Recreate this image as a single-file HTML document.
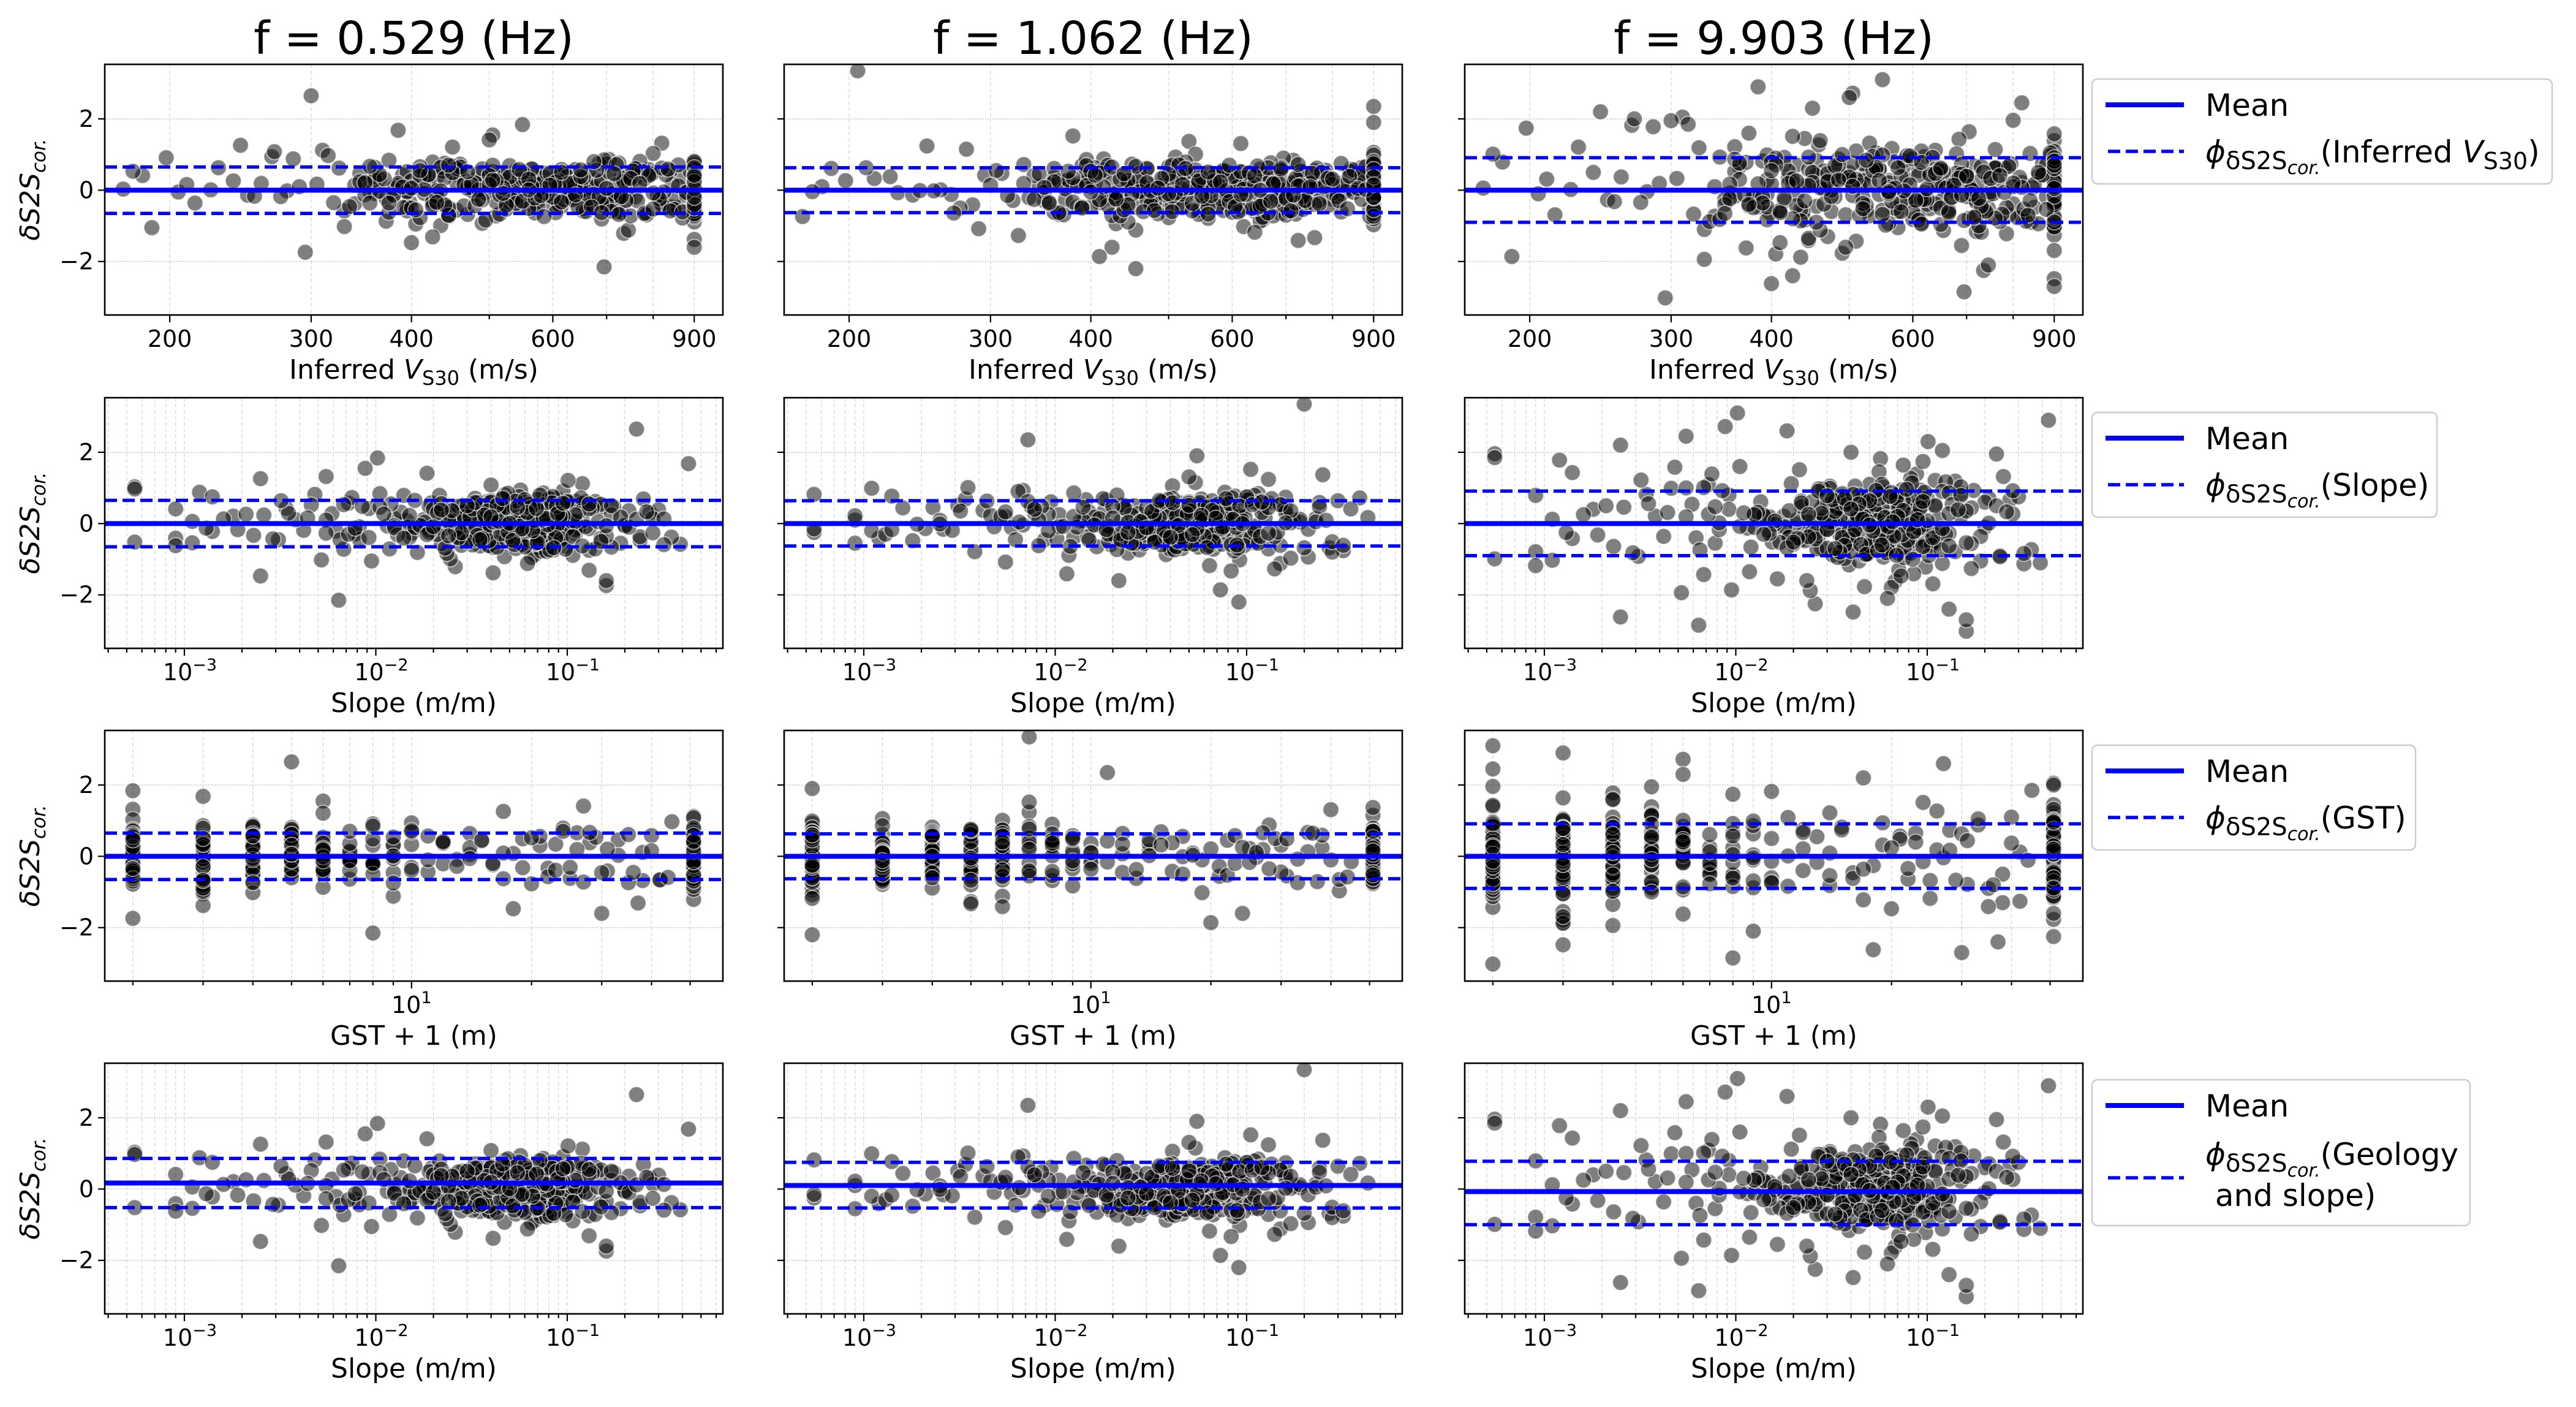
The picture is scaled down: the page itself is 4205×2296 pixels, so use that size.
<!DOCTYPE html>
<html><head><meta charset="utf-8">
<style>
html,body{margin:0;padding:0;background:#fff;}
svg{display:block;font-family:"DejaVu Sans","Liberation Sans",sans-serif;}
</style></head>
<body>
<svg id="fig" width="4205" height="2296" viewBox="0 0 4205 2296" xmlns="http://www.w3.org/2000/svg"></svg>
<script>
// ---- data ----
const VS30=[420,615,230,880,365,510,900,285,745,455,190,560,398,900,655,330,480,820,250,705,
540,372,900,430,610,268,785,500,900,345,175,665,458,900,590,310,725,405,870,525,
215,640,380,900,470,560,295,760,440,900,620,355,505,842,260,690,415,900,575,325,
735,465,198,650,390,900,520,280,800,445,585,340,900,675,490,240,715,425,860,550,
305,630,395,900,470,185,745,530,360,900,600,450,275,780,410,900,565,320,695,485,
225,655,375,900,540,435,840,290,610,500,350,900,720,460,205,580,400,890,525,315,
670,445,900,255,760,495,385,625,900,335,570,425,210,705,480,900,545,300,820,415,
640,360,900,505,270,730,455,590,180,900,520,395,685,440,900,330,615,475,850,245];
const VS30_B=[480,530,610,700,405,455,560,650,760,820,900,372,438,515,590,680,735,860,395,470,
545,625,710,790,900,350,425,500,575,655,745,880,410,465,535,605,690,770,900,385,
445,520,585,665,725,845,900,360,430,490,560,640,715,800,395,475,550,620,700,900,
340,415,505,570,645,760,830,900,380,450,525,600,675,740,870,400,460,540,615,690,
900,365,435,510,580,660,730,810,900,390,470,555,630,705,785,900,355,420,495,565,
635,720,850,410,485,545,610,695,765,900,375,440,515,590,670,745,825,900,400,465,
530,600,680,750,890,345,425,505,575,650,710,795,900,385,455,535,620,700,775,900,
360,430,500,560,640,725,815,415,480,550,625,690,760,900,370,445,520,595,665,735,
840,900,395,460,540,610,685,755,870,350,420,490,565,645,720,800,900,405,475,545,
615,700,780,900,380,450,525,605,675,740,860,900,365,435,510,585,655,730,820,900,
390,470,550,630,710,790,880,355,425,500,570,650,725,900,410,485,560,640,715,800,
900,375,445,520,595,670,750,835,900,400,440,505,580,615,690,770,900,430,560,650];
const SLOPE=[0.052,0.0031,0.11,0.018,0.27,0.0068,0.074,0.0012,0.036,0.15,
0.0095,0.061,0.0023,0.088,0.024,0.39,0.045,0.0055,0.13,0.0009,
0.031,0.068,0.0145,0.21,0.0042,0.057,0.098,0.0018,0.041,0.175,
0.0275,0.0078,0.082,0.00055,0.033,0.12,0.0115,0.065,0.3,0.0026,
0.049,0.0195,0.105,0.0048,0.071,0.0038,0.16,0.022,0.056,0.0014,
0.092,0.0345,0.0088,0.24,0.043,0.0165,0.077,0.0011,0.063,0.14,
0.026,0.0059,0.095,0.038,0.0034,0.19,0.0125,0.054,0.00055,0.085,
0.029,0.35,0.0072,0.067,0.047,0.0021,0.115,0.0215,0.059,0.0102,
0.079,0.0155,0.0046,0.17,0.037,0.0009,0.062,0.25,0.0082,0.044,
0.0029,0.101,0.019,0.0135,0.073,0.0016,0.125,0.028,0.0064,0.058,
0.042,0.32,0.0105,0.086,0.0035,0.0245,0.15,0.0055,0.066,0.0185,
0.0013,0.094,0.039,0.0075,0.2,0.051,0.0025,0.0285,0.11,0.00055,
0.069,0.0118,0.045,0.0019,0.083,0.0235,0.43,0.0062,0.055,0.032,
0.0092,0.13,0.0044,0.075,0.0148,0.0011,0.048,0.23,0.0265,0.0085,
0.064,0.0032,0.107,0.0178,0.04,0.0009,0.091,0.0225,0.0068,0.16,
0.035,0.0125,0.0014,0.071,0.28,0.0052,0.05,0.0205,0.097,0.0025];
const SLOPE_B=[0.045,0.062,0.031,0.088,0.12,0.022,0.054,0.076,0.038,0.15,
0.027,0.068,0.095,0.041,0.018,0.059,0.11,0.033,0.082,0.049,
0.2,0.025,0.071,0.037,0.13,0.057,0.015,0.086,0.044,0.065,
0.029,0.1,0.052,0.0082,0.074,0.035,0.17,0.047,0.021,0.061,
0.092,0.039,0.056,0.012,0.079,0.028,0.14,0.05,0.067,0.034,
0.24,0.043,0.085,0.019,0.058,0.105,0.031,0.072,0.046,0.0065,
0.053,0.125,0.036,0.081,0.024,0.063,0.048,0.16,0.03,0.07,
0.042,0.097,0.016,0.055,0.078,0.035,0.12,0.051,0.026,0.066,
0.0105,0.089,0.04,0.058,0.19,0.032,0.075,0.047,0.014,0.064,
0.11,0.037,0.053,0.083,0.023,0.069,0.044,0.135,0.03,0.06,
0.28,0.041,0.077,0.02,0.056,0.093,0.034,0.049,0.0072,0.07,
0.039,0.115,0.062,0.027,0.087,0.045,0.017,0.054,0.15,0.036,
0.073,0.05,0.022,0.098,0.042,0.061,0.013,0.08,0.033,0.057,
0.21,0.046,0.068,0.029,0.102,0.038,0.055,0.0092,0.076,0.043,
0.065,0.026,0.13,0.052,0.035,0.084,0.019,0.059,0.048,0.17,
0.031,0.071,0.04,0.0125,0.09,0.054,0.024,0.066,0.037,0.11,
0.058,0.044,0.079,0.016,0.05,0.32,0.033,0.063,0.028,0.095,
0.047,0.0055,0.074,0.039,0.118,0.056,0.021,0.069,0.042,0.083,
0.034,0.145,0.06,0.025,0.051,0.088,0.036,0.015,0.072,0.045,
0.23,0.03,0.064,0.048,0.011,0.081,0.038,0.057,0.1,0.027,
0.067,0.043,0.0185,0.092,0.053,0.032,0.16,0.06,0.035,0.075,
0.049,0.022,0.085,0.041,0.13,0.028,0.062,0.0078,0.055,0.07,
0.037,0.107,0.046,0.02,0.078,0.052,0.26,0.033,0.066,0.044,
0.014,0.089,0.058,0.03,0.12,0.04,0.069,0.024,0.05,0.095];
const GST=[2,5,51,3,8,2,14,4,51,6,3,2,22,5,9,51,4,2,7,31,
3,6,51,2,4,10,17,5,3,51,2,8,26,4,2,51,6,3,12,5,
2,51,7,4,38,3,2,9,51,5,19,2,6,4,51,3,28,2,10,5,
51,4,8,2,15,3,6,51,2,35,5,4,11,3,51,2,7,24,6,2,
51,4,3,42,5,2,9,51,13,3,2,6,4,51,20,2,5,3,8,33,
51,2,4,16,6,3,51,2,10,27,5,4,51,2,7,3,18,2,51,45,
6,4,23,2,5,51,3,12,2,9,4,37,51,3,6,2,21,5,51,8,
2,14,3,4,51,25,2,7,6,30,51,3,2,11,5,4,40,51,2,17];
const GST_B=[2,3,51,4,5,2,6,3,51,2,7,4,2,51,5,3,8,2,51,6,
2,4,3,51,9,2,5,51,3,2,10,4,51,6,2,3,51,5,2,7,
4,51,2,3,8,51,2,5,4,51,2,6,3,51,2,4,9,2,51,5,
3,2,51,7,4,2,51,6,3,10,2,51,5,4,2,3,51,8,2,6,
51,3,2,4,51,5,2,7,3,51,2,4,6,51,2,3,5,51,9,2,
4,51,3,2,6,51,2,8,4,3,51,2,5,51,7,2,3,4,51,2,
12,16,21,27,33,14,19,24,30,38,11,15,22,26,35,13,18,23,29,42,
2,3,51,4,2,5,51,3,6,2,51,4,2,7,3,51,2,5,8,51,
2,3,4,51,6,2,51,9,3,2,5,51,4,2,10,3,51,2,6,4,
51,2,3,7,51,5,2,4,51,3,2,8,51,6,2,4,3,51,5,2,
17,20,25,31,44,12,14,28,36,40,2,51,3,4,2,51,5,6,2,51,
3,2,7,4,51,2,3,51,8,5,2,4,51,3,2,6,51,2,9,4];
const Y_F1=[0.12,-0.45,0.63,-0.08,0.31,-0.72,0.05,0.88,-0.26,0.44,-1.05,0.18,-0.33,0.71,0.02,-0.58,0.27,1.32,-0.14,-0.41,
0.55,-0.87,0.09,0.36,-0.19,0.94,-0.63,0.21,-1.38,0.47,0.03,-0.29,0.66,-0.52,0.15,1.12,-0.07,-0.95,0.39,0.24,
-0.36,0.58,-0.11,0.82,-0.68,0.11,-1.74,0.33,0.76,-0.22,0.49,-0.04,1.55,-0.47,0.19,-0.81,0.38,0.06,-0.31,0.62,
-1.21,0.28,0.91,-0.16,0.43,-0.55,0.14,-0.02,1.03,-0.74,0.35,-0.38,0.57,0.08,-0.93,0.26,-0.12,0.79,-0.49,1.84,
0.17,-0.27,0.52,-0.66,0.04,0.41,-1.12,0.69,-0.09,0.23,-0.43,1.21,-0.18,0.32,-0.77,0.13,0.61,-0.35,-2.15,0.46,
0.01,-0.59,0.84,-0.24,0.29,-0.99,0.54,0.1,-0.39,1.41,-0.13,0.37,-0.61,0.73,-0.05,0.2,-1.47,0.51,-0.3,0.97,
0.07,-0.71,0.34,-0.17,0.6,-0.84,1.68,-0.21,0.25,-0.46,0.42,-1.31,0.16,0.86,-0.1,-0.54,0.3,2.65,-0.37,0.48,
-0.2,0.64,-0.89,0.11,1.08,-0.62,0.22,-0.15,0.53,-1.6,0.39,-0.06,0.75,-0.44,0.14,-1.02,0.58,0.0,-0.25,1.26];
const Y_F1_B=[0.21,-0.34,0.45,-0.12,0.08,-0.56,0.37,-0.02,0.62,-0.41,0.15,-0.23,0.53,-0.67,0.04,0.29,-0.18,0.71,-0.47,0.11,
-0.06,0.39,-0.29,0.58,-0.75,0.19,-0.38,0.47,0.02,-0.52,0.33,-0.14,0.66,-0.44,0.09,-0.63,0.25,0.81,-0.31,0.13,
-0.49,0.42,-0.08,0.55,-0.22,0.17,-0.71,0.36,-0.01,0.6,-0.37,0.23,-0.16,0.49,-0.58,0.07,0.31,-0.27,0.74,-0.45,
0.14,-0.09,0.52,-0.64,0.28,-0.19,0.43,-0.35,0.05,0.68,-0.53,0.2,-0.11,0.38,-0.78,0.26,0.57,-0.24,0.1,-0.42,
0.46,-0.03,0.64,-0.33,0.18,-0.6,0.35,-0.15,0.79,-0.48,0.06,0.3,-0.21,0.51,-0.69,0.12,-0.36,0.44,-0.07,0.59,
-0.26,0.16,-0.54,0.4,0.01,-0.43,0.27,0.85,-0.3,0.09,-0.62,0.34,-0.13,0.48,-0.4,0.22,-0.05,0.63,-0.5,0.15,
0.37,-0.2,0.56,-0.72,0.03,0.24,-0.32,0.7,-0.46,0.11,-0.1,0.45,-0.57,0.19,0.61,-0.28,0.08,-0.39,0.53,-0.66,
0.29,-0.17,0.41,-0.51,0.14,0.76,-0.25,0.02,-0.44,0.5,0.18,-0.35,0.6,-0.12,0.32,-0.7,0.07,0.47,-0.23,0.25,
-0.58,0.39,-0.04,0.65,-0.37,0.13,-0.19,0.54,-0.61,0.21,0.43,-0.27,0.1,-0.48,0.72,-0.08,0.3,-0.55,0.17,0.58,
-0.33,0.05,-0.65,0.36,-0.14,0.49,-0.42,0.23,0.8,-0.29,0.12,-0.5,0.44,-0.02,0.27,-0.74,0.35,-0.18,0.62,-0.4,
0.09,0.52,-0.31,0.2,-0.59,0.41,-0.06,0.67,-0.45,0.16,-0.22,0.38,-0.68,0.04,0.55,-0.26,0.31,-0.13,0.46,-0.53,
0.24,-0.36,0.7,-0.09,0.14,-0.47,0.33,0.59,-0.2,0.06,-0.41,0.28,-0.15,0.5,-0.63,0.19,0.42,-0.34,0.01,0.57];
const Y_F2=[-0.22,0.51,-0.07,0.34,-0.68,0.93,0.14,-0.41,0.26,-1.12,0.61,-0.18,0.45,0.03,-0.83,0.72,-0.31,0.19,1.24,-0.55,
0.08,-0.27,0.67,-0.94,0.37,-0.12,0.56,-0.48,1.06,0.11,-0.74,0.29,-0.03,0.82,-0.36,0.47,-1.41,0.2,0.64,-0.16,
0.33,-0.59,1.52,-0.09,0.24,-0.79,0.42,0.06,-0.33,0.77,-1.02,0.15,-0.46,0.59,0.01,-0.65,0.88,-0.2,0.36,-1.27,
0.5,-0.11,0.27,-0.87,0.69,0.04,-0.39,1.15,-0.25,0.13,-0.57,0.41,2.35,-0.72,0.18,-0.14,0.84,-1.6,0.3,-0.43,
0.55,-0.05,0.23,-0.97,0.62,0.1,-0.35,1.37,-0.62,0.28,-0.19,0.73,-0.5,0.07,-1.86,0.44,0.16,-0.29,0.9,-0.08,
0.38,-0.76,0.25,-0.42,1.01,-0.13,0.53,-1.08,0.12,0.66,-0.3,0.21,-0.67,0.47,3.35,-0.24,0.09,-0.52,0.79,-0.15,
0.32,-0.89,0.58,-0.02,-1.33,0.4,0.17,-0.45,1.9,-0.21,0.26,-0.71,0.63,0.05,-0.37,0.99,-0.56,0.14,-0.1,0.48,
-1.18,0.35,-0.26,0.7,-0.64,0.22,-2.2,0.52,-0.04,0.31,-0.49,0.86,-0.17,0.43,-0.8,0.19,1.31,-0.34,0.57,-0.01];
const Y_F2_B=[-0.15,0.42,-0.31,0.2,0.63,-0.48,0.07,-0.22,0.55,-0.61,0.28,0.03,-0.39,0.71,-0.12,0.36,-0.54,0.14,0.49,-0.27,
-0.68,0.24,0.09,-0.43,0.58,-0.05,0.33,-0.77,0.17,0.45,-0.2,0.66,-0.35,0.11,-0.58,0.39,0.02,-0.29,0.8,-0.46,
0.19,-0.11,0.52,-0.64,0.3,0.06,-0.37,0.61,-0.24,0.13,0.47,-0.52,0.22,-0.08,0.69,-0.41,0.15,0.35,-0.7,0.04,
-0.26,0.57,-0.17,0.4,-0.5,0.26,-0.03,0.74,-0.33,0.1,0.5,-0.62,0.18,-0.14,0.43,-0.45,0.31,0.01,-0.56,0.64,
-0.09,0.27,-0.72,0.37,0.12,-0.3,0.54,-0.19,0.08,-0.47,0.6,-0.25,0.16,-0.59,0.44,0.05,-0.38,0.7,-0.13,0.23,
-0.51,0.34,-0.06,0.48,-0.66,0.21,0.1,-0.42,0.62,-0.21,0.29,-0.55,0.41,-0.01,0.77,-0.34,0.14,-0.23,0.53,-0.6,
0.07,0.38,-0.28,0.19,-0.74,0.46,-0.1,0.25,-0.44,0.59,-0.16,0.32,-0.53,0.11,0.67,-0.37,0.03,-0.2,0.5,-0.65,
0.24,-0.07,0.45,-0.48,0.17,0.72,-0.3,0.09,-0.57,0.36,-0.12,0.55,-0.4,0.2,-0.69,0.28,0.04,-0.32,0.63,-0.18,
0.39,-0.5,0.13,-0.04,0.57,-0.61,0.22,0.47,-0.26,0.08,-0.43,0.33,-0.15,0.68,-0.36,0.16,-0.73,0.42,-0.02,0.26,
0.52,-0.24,0.1,-0.55,0.35,-0.11,0.61,-0.46,0.18,-0.29,0.05,0.44,-0.63,0.3,-0.08,0.56,-0.39,0.14,0.75,-0.22,
-0.5,0.21,-0.17,0.49,-0.58,0.34,0.02,-0.35,0.65,-0.1,0.27,-0.45,0.12,0.58,-0.27,0.06,-0.67,0.4,-0.14,0.31,
-0.2,0.53,-0.41,0.16,0.7,-0.31,0.09,-0.52,0.37,-0.05,0.46,-0.6,0.23,-0.12,0.6,-0.38,0.15,-0.25,0.51,0.0];
const Y_F3=[0.35,-0.92,1.21,-0.18,0.66,-1.43,0.09,1.78,-0.51,0.84,-1.86,0.27,-0.64,1.39,0.04,-1.1,0.52,2.45,-0.27,-0.79,
1.05,-1.62,0.17,0.71,-0.36,1.82,-1.22,0.4,-2.48,0.93,0.06,-0.55,1.27,-0.99,0.3,2.05,-0.13,-1.79,0.75,0.46,
-0.69,1.12,-0.21,1.58,-1.3,0.21,-3.02,0.63,1.45,-0.42,0.94,-0.08,2.72,-0.9,0.37,-1.55,0.73,0.12,-0.6,1.19,
-2.25,0.54,1.74,-0.31,0.82,-1.05,0.27,-0.04,1.96,-1.41,0.67,-0.73,1.09,0.15,-1.77,0.5,-0.23,1.51,-0.94,3.1,
0.33,-0.52,0.99,-1.26,0.08,0.79,-2.1,1.32,-0.17,0.44,-0.82,2.3,-0.34,0.61,-1.47,0.25,1.17,-0.67,-2.85,0.88,
0.02,-1.13,1.6,-0.46,0.56,-1.88,1.03,0.19,-0.75,2.6,-0.25,0.71,-1.16,1.39,-0.1,0.38,-2.62,0.97,-0.57,1.85,
0.13,-1.35,0.65,-0.32,1.14,-1.6,2.9,-0.4,0.48,-0.88,0.8,-2.4,0.31,1.64,-0.19,-1.03,0.57,1.95,-0.71,0.92,
-0.38,1.22,-1.69,0.21,2.0,-1.18,0.42,-0.29,1.01,-2.7,0.74,-0.11,1.43,-0.84,0.27,-1.94,1.1,0.0,-0.48,2.2];
const Y_F3_B=[0.31,-0.72,0.55,-0.18,0.9,-0.45,0.08,-0.96,0.64,0.22,-0.35,0.78,-0.61,0.14,-0.09,1.02,-0.52,0.4,-0.83,0.27,
0.6,-0.25,0.05,-0.7,0.86,-0.4,0.19,0.49,-1.05,0.33,-0.14,0.71,-0.57,0.02,0.95,-0.32,0.44,-0.88,0.12,-0.47,
0.58,-0.21,0.83,-0.66,0.24,0.07,-0.79,0.52,-0.11,0.37,-0.93,0.15,0.68,-0.38,0.29,-0.6,0.99,-0.05,0.46,-0.74,
0.1,-0.3,0.76,-0.51,0.2,0.62,-0.87,0.35,-0.16,0.5,-0.42,0.88,-0.02,-0.64,0.41,0.17,-1.12,0.57,-0.27,0.73,
-0.08,0.3,-0.55,1.1,-0.36,0.06,0.66,-0.77,0.23,-0.19,0.47,-0.98,0.38,0.11,-0.48,0.81,-0.24,0.54,-0.69,0.03,
0.92,-0.33,0.16,-0.58,0.7,-0.12,0.42,-0.85,0.26,0.6,-0.44,0.13,-0.71,0.97,-0.2,0.35,-0.53,0.09,0.79,-0.39,
0.21,-0.62,0.48,-0.04,1.05,-0.82,0.32,-0.15,0.63,-0.5,0.01,0.74,-0.34,0.18,-0.9,0.55,-0.26,0.4,-0.67,0.12,
0.87,-0.43,0.28,-0.07,0.59,-1.0,0.36,-0.22,0.69,-0.56,0.04,0.45,-0.78,0.25,-0.13,0.93,-0.37,0.15,-0.61,0.51,
-0.29,0.8,-0.47,0.07,0.64,-0.84,0.34,-0.1,0.43,-0.65,0.19,1.0,-0.31,0.56,-0.73,0.1,-0.41,0.71,-0.18,0.27,
-0.95,0.39,-0.06,0.61,-0.49,0.22,0.84,-0.28,0.14,-0.59,0.5,-0.17,0.76,-0.86,0.3,-0.02,0.53,-0.45,0.08,0.91,
-0.36,0.24,-0.68,0.44,-0.11,0.67,-0.54,0.17,-0.8,0.37,0.06,0.58,-0.23,0.82,-0.63,0.29,-0.09,0.47,-0.76,0.2,
0.7,-0.4,0.13,-0.52,0.96,-0.21,0.33,-0.7,0.05,0.55,-0.3,0.11,-0.6,0.78,-0.14,0.41,-0.89,0.26,-0.04,0.62];
const FREQ_LABELS=["f = 0.529 (Hz)","f = 1.062 (Hz)","f = 9.903 (Hz)"];
const MEAN_ROW1=[0,0,0], MEAN_ROW2=[0,0,0], MEAN_ROW3=[0,0,0], MEAN_ROW4=[0.17,0.1,-0.07];
const PHI_UP_ROW1=[0.65,0.63,0.91], PHI_UP_ROW2=[0.65,0.64,0.91], PHI_UP_ROW3=[0.65,0.63,0.91], PHI_UP_ROW4=[0.86,0.75,0.78];
const PHI_LO_ROW1=[-0.65,-0.63,-0.9], PHI_LO_ROW2=[-0.65,-0.63,-0.9], PHI_LO_ROW3=[-0.65,-0.63,-0.9], PHI_LO_ROW4=[-0.52,-0.53,-1.0];
const VS30_TICKS=[200,300,400,600,900];
const Y_TICKS=[-2,0,2];

// ---- layout ----
const NS="http://www.w3.org/2000/svg";
const svg=document.getElementById('fig');
const COLX=[171,1280,2391], PW=1009, ROWY=[105,649,1192,1735], PH=409;
const YMIN=-3.5, YMAX=3.53;
function el(tag,attrs,parent){const e=document.createElementNS(NS,tag);for(const k in attrs)e.setAttribute(k,attrs[k]);(parent||svg).appendChild(e);return e;}
function yScale(r,v){return ROWY[r]+PH-(v-YMIN)/(YMAX-YMIN)*PH;}
const XDOM=[[166,977],[Math.pow(10,-3.416),Math.pow(10,-0.187)],[1.70,60.4],[Math.pow(10,-3.416),Math.pow(10,-0.187)]];
function xScale(r,c,v){const d=XDOM[r];return COLX[c]+(Math.log10(v)-Math.log10(d[0]))/(Math.log10(d[1])-Math.log10(d[0]))*PW;}
const XS=[VS30.concat(VS30_B),SLOPE.concat(SLOPE_B),GST.concat(GST_B),SLOPE.concat(SLOPE_B)];
const YS=[Y_F1.concat(Y_F1_B),Y_F2.concat(Y_F2_B),Y_F3.concat(Y_F3_B)];
const MEANS=[MEAN_ROW1,MEAN_ROW2,MEAN_ROW3,MEAN_ROW4], UPS=[PHI_UP_ROW1,PHI_UP_ROW2,PHI_UP_ROW3,PHI_UP_ROW4], LOS=[PHI_LO_ROW1,PHI_LO_ROW2,PHI_LO_ROW3,PHI_LO_ROW4];
const XLABELS=['Inferred <tspan font-style="italic">V</tspan><tspan font-size="32" dy="10">S30</tspan><tspan dy="-10"> (m/s)</tspan>','Slope (m/m)','GST + 1 (m)','Slope (m/m)'];
const defs=el('defs',{});

for(let c=0;c<3;c++){
  const t=el('text',{x:COLX[c]+PW/2,y:88,'font-size':74,'text-anchor':'middle',fill:'#000'});
  t.textContent=FREQ_LABELS[c];
  
  
}

function gridTicks(r){
  const d=XDOM[r];const out=[];
  if(r===0){[200,300,400,500,600,700,800,900].forEach(v=>out.push({v,major:VS30_TICKS.includes(v)}));}
  else if(r===2){for(let v=2;v<=9;v++)out.push({v,major:false});out.push({v:10,major:true});[20,30,40,50].forEach(v=>out.push({v,major:false}));}
  else{for(let e=-4;e<=0;e++)for(let m=1;m<=9;m++){const v=m*Math.pow(10,e);if(v>=d[0]&&v<=d[1])out.push({v,major:m===1,e});}}
  return out;
}

for(let r=0;r<4;r++){
  for(let c=0;c<3;c++){
    const x0=COLX[c], y0=ROWY[r];
    const g=el('g',{});
    
    
    const cp=el('clipPath',{id:'cp'+r+c},defs);
    el('rect',{x:x0,y:y0,width:PW,height:PH},cp);
    el('rect',{x:x0,y:y0,width:PW,height:PH,fill:'#fff'},g);
    const ticks=gridTicks(r);
    ticks.forEach(t=>{
      const x=xScale(r,c,t.v);
      const gl=el('line',{x1:x,x2:x,y1:y0,y2:y0+PH,stroke:'#dcdcdc','stroke-width':1.5,'stroke-dasharray':'6,4'},g);
      
      
      const tk=el('line',{x1:x,x2:x,y1:y0+PH,y2:y0+PH+(t.major?12:7),stroke:'#000','stroke-width':2.2},g);
      
      
    });
    Y_TICKS.forEach(v=>{
      const y=yScale(r,v);
      const gl=el('line',{x1:x0,x2:x0+PW,y1:y,y2:y,stroke:'#c8c8c8','stroke-width':1.6,'stroke-dasharray':'2,2'},g);
      
      
      const tk=el('line',{x1:x0-11,x2:x0,y1:y,y2:y,stroke:'#000','stroke-width':2.2},g);
      
      
      if(c===0){
        const tl=el('text',{x:x0-18,y:y+13,'font-size':38,'text-anchor':'end'},g);
        tl.textContent=v<0?'\u2212'+Math.abs(v):String(v);
        
        
      }
    });
    const pg=el('g',{'clip-path':'url(#cp'+r+c+')'},g);
    
    
    const xs=XS[r], ys=YS[c];
    for(let i=0;i<xs.length;i++){
      const p=el('circle',{cx:xScale(r,c,xs[i]).toFixed(1),cy:yScale(r,ys[i]).toFixed(1),r:13,fill:'#000','fill-opacity':0.5,stroke:'#fff','stroke-opacity':0.6,'stroke-width':1.8},pg);
      
      
    }
    const lm=el('line',{x1:x0,x2:x0+PW,y1:yScale(r,MEANS[r][c]),y2:yScale(r,MEANS[r][c]),stroke:'#0000ff','stroke-width':8},g);
    
    
    [UPS[r][c],LOS[r][c]].forEach((v,k)=>{
      const ld=el('line',{x1:x0,x2:x0+PW,y1:yScale(r,v),y2:yScale(r,v),stroke:'#0000ff','stroke-width':5.5,'stroke-dasharray':'20,9'},g);
      
      
    });
    const fr=el('rect',{x:x0,y:y0,width:PW,height:PH,fill:'none',stroke:'#000','stroke-width':2.6},g);
    
    
    const by=y0+PH+52;
    if(r===0){
      VS30_TICKS.forEach(v=>{const t=el('text',{x:xScale(r,c,v),y:by,'font-size':38,'text-anchor':'middle'},g);t.textContent=v;
        
        });
    } else if(r===2){
      const t=el('text',{x:xScale(r,c,10),y:by,'font-size':38,'text-anchor':'middle'},g);
      t.innerHTML='10<tspan font-size="27" dy="-16">1</tspan>';
      
      
    } else {
      [-3,-2,-1].forEach(e=>{const t=el('text',{x:xScale(r,c,Math.pow(10,e))+9,y:by,'font-size':38,'text-anchor':'middle'},g);
        t.innerHTML='10<tspan font-size="27" dy="-16">\u2212'+Math.abs(e)+'</tspan>';
        
        });
    }
    const xl=el('text',{x:x0+PW/2,y:y0+PH+104,'font-size':44,'text-anchor':'middle'},g);
    xl.innerHTML=XLABELS[r];
    
    
    if(c===0){
      const cy=y0+PH/2;
      const yl=el('text',{x:64,y:cy,'font-size':44,'text-anchor':'middle',transform:'rotate(-90 64 '+cy+')'},g);
      yl.innerHTML='<tspan font-style="italic">\u03b4S2S</tspan><tspan font-size="31" dy="10" font-style="italic">cor.</tspan>';
      
      
    }
  }
}

const PHI='<tspan font-style="italic">\u03d5</tspan><tspan font-size="40" dy="11">\u03b4S2S</tspan><tspan font-size="30" dy="8" font-style="italic">cor.</tspan>';
const LEG=[
 {w:751,h:171,lab:PHI+'<tspan dy="-19">(Inferred </tspan><tspan font-style="italic">V</tspan><tspan font-size="38" dy="11">S30</tspan><tspan dy="-11">)</tspan>'},
 {w:563,h:171,lab:PHI+'<tspan dy="-19">(Slope)</tspan>'},
 {w:528,h:171,lab:PHI+'<tspan dy="-19">(GST)</tspan>'},
 {w:617,h:238,lab:PHI+'<tspan dy="-19">(Geology</tspan>',lab2:' and slope)'}
];
LEG.forEach((L,r)=>{
  const top=ROWY[r]+(r===3?27:24), lx=3415;
  const g=el('g',{});
  
  
  el('rect',{x:lx,y:top,width:L.w,height:L.h,rx:9,fill:'#fff','fill-opacity':0.8,stroke:'#cccccc','stroke-width':2.5},g);
  const my=top+42;
  const m=el('line',{x1:lx+22,x2:lx+150,y1:my,y2:my,stroke:'#0000ff','stroke-width':8},g);
  
  
  const mt=el('text',{x:lx+185,y:my+18,'font-size':50},g);
  mt.textContent='Mean';
  
  
  const dy=r===3?top+160:top+118;
  const d=el('line',{x1:lx+26,x2:lx+150,y1:dy,y2:dy,stroke:'#0000ff','stroke-width':5.5,'stroke-dasharray':'20,9'},g);
  
  
  const ty=r===3?top+139:dy+18;
  const t=el('text',{x:lx+185,y:ty,'font-size':50},g);
  t.innerHTML=L.lab;
  
  
  if(L.lab2){
    const t2=el('text',{x:lx+185,y:top+206,'font-size':50},g);
    t2.textContent='\u00a0and slope)';
    
    
  }
});
</script>
</body></html>
